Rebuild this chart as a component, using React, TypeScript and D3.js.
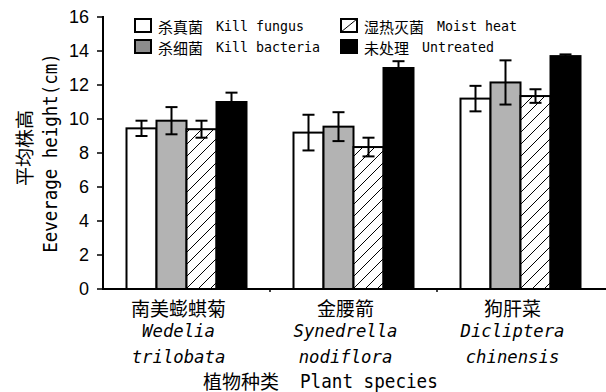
import React from 'react';
import * as d3 from 'd3';

// species on the x axis (Chinese name + two latin lines)
const categoriesCn = ['南美蟛蜞菊', '金腰箭', '狗肝菜'];
const categoriesLatin1 = ['Wedelia', 'Synedrella', 'Dicliptera'];
const categoriesLatin2 = ['trilobata', 'nodiflora', 'chinensis'];

// treatments
const seriesCn = ['杀真菌', '杀细菌', '湿热灭菌', '未处理'];
const seriesEn = ['Kill fungus', 'Kill bacteria', 'Moist heat', 'Untreated'];

// mean height (cm) and error per treatment, one value per species
const killFungus = [9.45, 9.2, 11.2];
const killFungusErr = [0.45, 1.05, 0.75];
const killBacteria = [9.9, 9.55, 12.15];
const killBacteriaErr = [0.8, 0.85, 1.3];
const moistHeat = [9.4, 8.35, 11.35];
const moistHeatErr = [0.5, 0.55, 0.4];
const untreated = [11.0, 13.0, 13.7];
const untreatedErr = [0.55, 0.4, 0.1];

const yTicks = [0, 2, 4, 6, 8, 10, 12, 14, 16];

const values = [killFungus, killBacteria, moistHeat, untreated];
const errors = [killFungusErr, killBacteriaErr, moistHeatErr, untreatedErr];

const CJK = '"Noto Sans CJK SC", sans-serif';
const MONO = '"DejaVu Sans Mono", "Liberation Mono", monospace';

// half-width latin like SimHei: tall glyphs squeezed to a fixed advance
function Latin({ text, perChar, size, italic, ...rest }: any) {
  return (
    <text {...rest} fontFamily={MONO} fontSize={size} fontStyle={italic ? 'italic' : 'normal'}
      textLength={text.length * perChar} lengthAdjust="spacingAndGlyphs">{text}</text>
  );
}

export default function App() {
  const width = 606;
  const height = 392;
  const margin = { top: 17, right: 2, bottom: 103, left: 103 };

  const y = d3.scaleLinear().domain([0, 16]).range([height - margin.bottom, margin.top]);

  const x0 = d3.scaleBand<number>()
    .domain(d3.range(categoriesCn.length))
    .range([margin.left, width - margin.right])
    .padding(0);

  const groupW = 120;
  const pad = (x0.bandwidth() - groupW) / 2;
  const x1 = d3.scaleBand<number>()
    .domain(d3.range(seriesCn.length))
    .range([pad, pad + groupW])
    .padding(0);

  const fills = ['#ffffff', '#b3b3b3', 'url(#hatch)', '#000000'];
  const legendFills = ['#ffffff', '#8c8c8c', '#ffffff', '#000000'];
  const y0 = y(0);

  const legendPos = [
    { x: 135, y: 19 },
    { x: 135, y: 40 },
    { x: 341, y: 19 },
    { x: 341, y: 40 },
  ];

  return (
    <svg width={width} height={height} style={{ position: 'absolute', left: 0, top: 0, background: '#fff' }}>
      <defs>
        <pattern id="hatch" patternUnits="userSpaceOnUse" width={12} height={12}>
          <rect width={12} height={12} fill="#fff" />
          <path d="M0,12 L12,0 M-3,3 L3,-3 M9,15 L15,9" stroke="#000" strokeWidth={1} />
        </pattern>
      </defs>

      {/* bars */}
      {categoriesCn.map((_, ci) => (
        <g key={ci} transform={`translate(${x0(ci)},0)`}>
          {values.map((vals, si) => {
            const bx = x1(si)!;
            const bw = x1.bandwidth();
            const cx = bx + bw / 2;
            const v = vals[ci];
            const e = errors[si][ci];
            return (
              <g key={si}>
                <rect x={bx} y={y(v)} width={bw} height={y0 - y(v)} fill={fills[si]} stroke="#000" strokeWidth={2} />
                <g stroke="#000" strokeWidth={2}>
                  <line x1={cx} x2={cx} y1={y(v + e)} y2={y(v - e)} />
                  <line x1={cx - 6} x2={cx + 6} y1={y(v + e)} y2={y(v + e)} />
                  <line x1={cx - 6} x2={cx + 6} y1={y(v - e)} y2={y(v - e)} />
                </g>
              </g>
            );
          })}
        </g>
      ))}

      {/* y axis */}
      <line x1={margin.left} x2={margin.left} y1={y(16) - 1} y2={y0 + 1} stroke="#000" strokeWidth={2} />
      {yTicks.map((t) => (
        <g key={t}>
          <line x1={margin.left - 6} x2={margin.left} y1={y(t)} y2={y(t)} stroke="#000" strokeWidth={1.5} />
          <text x={89} y={y(t)} textAnchor="end" dominantBaseline="central"
            fontFamily='"Liberation Sans", Arial, sans-serif' fontSize={18}>{t}</text>
        </g>
      ))}

      {/* x axis */}
      <line x1={margin.left} x2={width} y1={y0} y2={y0} stroke="#000" strokeWidth={2} />
      {d3.range(1, categoriesCn.length).map((i) => (
        <line key={i} x1={x0(i)} x2={x0(i)} y1={y0} y2={y0 + 3} stroke="#000" strokeWidth={1.5} />
      ))}

      {categoriesCn.map((c, ci) => {
        const cx = x0(ci)! + x0.bandwidth() / 2 - 8;
        return (
          <g key={c}>
            <text x={cx} y={307} textAnchor="middle" dominantBaseline="central" fontFamily={CJK} fontSize={19}>{c}</text>
            <Latin x={cx} y={337} textAnchor="middle" text={categoriesLatin1[ci]} perChar={10.4} size={17} italic />
            <Latin x={cx} y={363} textAnchor="middle" text={categoriesLatin2[ci]} perChar={10.4} size={17} italic />
          </g>
        );
      })}

      {/* axis titles */}
      <text x={203} y={380} dominantBaseline="central" fontFamily={CJK} fontSize={19}>植物种类</text>
      <Latin x={300} y={388} text="Plant species" perChar={10.6} size={19} />
      <text transform="translate(23,148) rotate(-90)" textAnchor="middle" dominantBaseline="central" fontFamily={CJK} fontSize={19}>平均株高</text>
      <Latin transform="translate(57,153) rotate(-90)" textAnchor="middle" text="Eeverage height(cm)" perChar={10.5} size={19} />

      {/* legend */}
      {seriesCn.map((s, si) => {
        const p = legendPos[si];
        const cjkW = s.length * 15;
        return (
          <g key={s}>
            <rect x={p.x} y={p.y} width={16} height={13} fill={legendFills[si]} stroke="#000" strokeWidth={2} />
            {si === 2 && <line x1={p.x} y1={p.y + 13} x2={p.x + 16} y2={p.y} stroke="#000" strokeWidth={1} />}
            <text x={p.x + 23} y={p.y + 7} dominantBaseline="central" fontFamily={CJK} fontSize={15}>{s}</text>
            <Latin x={p.x + 23 + cjkW + 13} y={p.y + 12} text={seriesEn[si]} perChar={8} size={14} />
          </g>
        );
      })}
    </svg>
  );
}
